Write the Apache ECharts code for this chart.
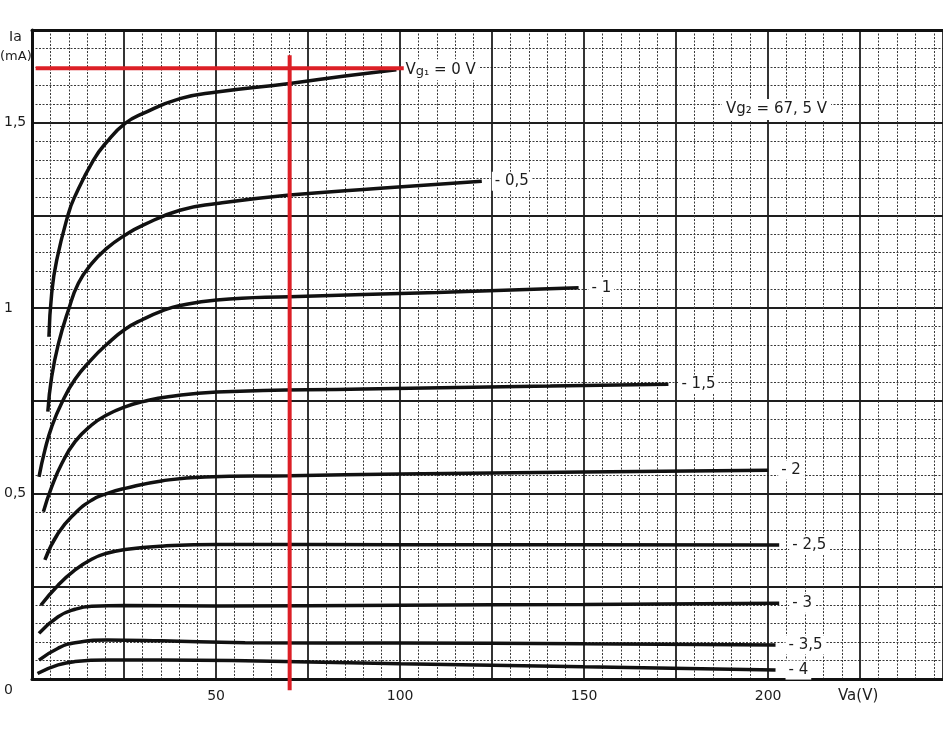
<!DOCTYPE html>
<html>
<head>
<meta charset="utf-8">
<script src="https://cdn.jsdelivr.net/npm/echarts@6/dist/echarts.min.js"></script>
<style>
html,body{margin:0;padding:0;background:#fff;}
#c{width:943px;height:735px;}
</style>
</head>
<body>
<div id="c"></div>
<script>
// Anode voltage Va (V) vs anode current Ia (mA), one curve per Vg1
const vg0   = [[4.6,0.923],[5.35,1.04],[6.7,1.129],[9.9,1.255],[11.5,1.298],[16.7,1.399],[20.3,1.448],[25.3,1.498],[30.2,1.525],[40.2,1.565],[50.2,1.583],[70,1.606],[85,1.626],[99,1.643]];
const vgm05 = [[4.3,0.721],[5.35,0.815],[7.2,0.905],[9.9,0.995],[12.6,1.067],[16.2,1.12],[20.3,1.161],[25.3,1.197],[30.2,1.224],[40.2,1.264],[50.2,1.282],[70,1.305],[94.6,1.323],[122.2,1.342]];
const vgm1  = [[1.9,0.545],[3.5,0.617],[5.35,0.68],[8.1,0.745],[11.7,0.808],[16.2,0.862],[20.3,0.902],[25.3,0.943],[30.2,0.97],[35.2,0.992],[40.2,1.007],[50.2,1.022],[70,1.031],[110,1.042],[148.5,1.055]];
const vgm15 = [[3.1,0.451],[5.35,0.518],[8.1,0.581],[11.7,0.64],[16.2,0.685],[20.3,0.712],[25.3,0.734],[30.2,0.748],[37,0.761],[50.2,0.774],[90,0.782],[140.8,0.79],[172.9,0.795]];
const vgm2  = [[3.5,0.321],[7.1,0.393],[11.7,0.447],[16.2,0.482],[20.3,0.5],[25.3,0.514],[35.2,0.534],[47,0.545],[70,0.548],[100,0.553],[150,0.558],[200,0.563]];
const vgm25 = [[2.4,0.199],[7.1,0.253],[11.7,0.294],[16.2,0.323],[20.3,0.339],[25.3,0.349],[35.2,0.358],[50,0.363],[100,0.362],[150,0.362],[203,0.361]];
const vgm3  = [[1.9,0.123],[7.1,0.168],[11.7,0.188],[16.2,0.196],[25.3,0.198],[50,0.197],[100,0.199],[150,0.201],[203,0.204]];
const vgm35 = [[1.9,0.051],[7.1,0.083],[11.7,0.098],[20.3,0.105],[35.2,0.103],[57.9,0.098],[100,0.097],[150,0.095],[202,0.092]];
const vgm4  = [[1.5,0.015],[7.1,0.038],[11.7,0.047],[20.3,0.051],[35.2,0.051],[57.9,0.049],[100,0.041],[150,0.033],[202,0.024]];

const curveLabels = ['Vg₁ = 0 V','- 0,5','- 1','- 1,5','- 2','- 2,5','- 3','- 3,5','- 4'];
const curves = [vg0, vgm05, vgm1, vgm15, vgm2, vgm25, vgm3, vgm35, vgm4];

// operating point marker lines (red)
const redH = [[1,1.647],[101,1.647]];
const redV = [[70,1.682],[70,-0.03]];

const xTickLabels = {50:'50',100:'100',150:'150',200:'200'};
const yTickLabels = {0:'0',0.5:'0,5',1:'1',1.5:'1,5'};

const FONT = 'DejaVu Sans';
const INK = '#1c1c1c';

const chart = echarts.init(document.getElementById('c'), null, {renderer:'canvas'});

const series = curves.map((d,i)=>({
  type:'line',
  data:d,
  smooth:0.5,
  symbol:'none',
  lineStyle:{color:'#111',width:3.5},
  z:5,
  endLabel:{
    show:true,
    formatter: i===0 ? 'V{g|g₁} = 0 V' : curveLabels[i],
    distance: i===0 ? 6 : 10,
    color:INK,
    fontFamily:FONT,
    fontSize:15,
    backgroundColor:'#fff',
    padding:[2,3,2,3],
    rich:{g:{fontSize:13,color:INK,fontFamily:FONT,padding:[4,0,0,0]}}
  }
}));

series.push({
  type:'line', data:redH, symbol:'none', clip:false, z:10,
  lineStyle:{color:'#dc1f26',width:4}
});
series.push({
  type:'line', data:redV, symbol:'none', clip:false, z:10,
  lineStyle:{color:'#dc1f26',width:4}
});

chart.setOption({
  animation:false,
  backgroundColor:'#fff',
  grid:{left:32,top:30,bottom:56,right:0},
  xAxis:[{
    type:'value', min:0, max:247.5, interval:25,
    axisLine:{show:true,onZero:false,lineStyle:{color:'#111',width:3}},
    axisTick:{show:false},
    splitLine:{show:true,lineStyle:{color:'#1e1e1e',width:1.8}},
    minorTick:{show:false,splitNumber:5},
    minorSplitLine:{show:true,lineStyle:{color:'#3a3a3a',width:1,type:[2,1.5]}},
    axisLabel:{
      margin:10, color:INK, fontFamily:FONT, fontSize:14,
      showMaxLabel:false,
      formatter:v=> xTickLabels[v] || ''
    }
  },{
    type:'value', position:'top', min:0, max:247.5,
    axisLine:{show:true,onZero:false,lineStyle:{color:'#111',width:3}},
    axisTick:{show:false}, axisLabel:{show:false}, splitLine:{show:false}
  }],
  yAxis:{
    type:'value', min:0, max:1.75, interval:0.25,
    axisLine:{show:true,onZero:false,lineStyle:{color:'#111',width:3}},
    axisTick:{show:false},
    splitLine:{show:true,lineStyle:{color:'#1e1e1e',width:1.8}},
    minorTick:{show:false,splitNumber:5},
    minorSplitLine:{show:true,lineStyle:{color:'#3a3a3a',width:1,type:[2,1.5]}},
    axisLabel:{
      margin:28, align:'left', color:INK, fontFamily:FONT, fontSize:14,
      formatter:v=>{
        const k = Math.round(v*100)/100;
        if (k===0) return '{z|0}';
        return yTickLabels[k] || '';
      },
      rich:{z:{padding:[22,0,0,0],color:INK,fontFamily:FONT,fontSize:14}}
    }
  },
  graphic:[
    {type:'text', left:9, top:30, style:{text:'Ia', fill:INK, font:'14px '+FONT}},
    {type:'text', left:0, top:50, style:{text:'(mA)', fill:INK, font:'13px '+FONT}},
    {type:'text', left:838, top:689, style:{text:'Va(V)', fill:INK, font:'15px '+FONT}},
    {type:'text', left:722, top:99, z:20, style:{text:'Vg₂ = 67, 5 V', fill:INK, font:'15px '+FONT, backgroundColor:'#fff', padding:[3,4,3,4]}}
  ],
  series:series
});
</script>
</body>
</html>
